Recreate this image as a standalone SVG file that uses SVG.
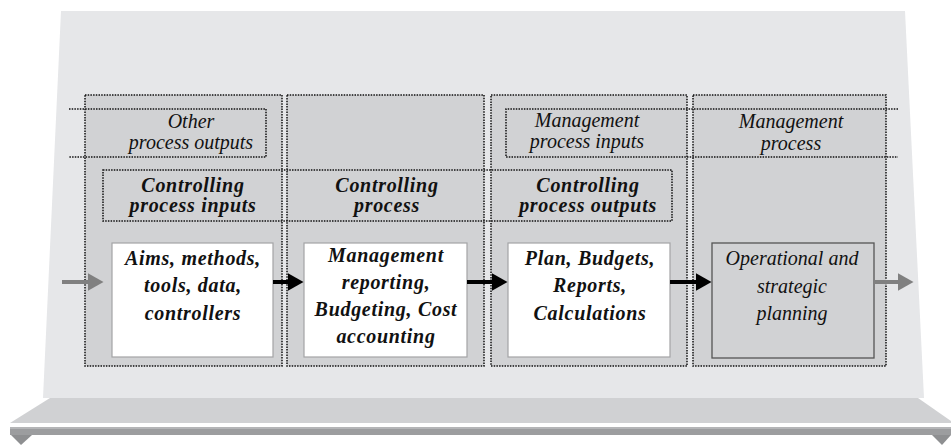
<svg xmlns="http://www.w3.org/2000/svg" width="951" height="445" viewBox="0 0 951 445">
  <style>
    .dot { fill: none; stroke: #111; stroke-width: 1.5; stroke-dasharray: 1.5 1.2; }
    .col { fill: #d1d2d4; stroke: #111; stroke-width: 1.5; stroke-dasharray: 1.5 1.2; }
    .box { fill: #ffffff; stroke: #a3a4a6; stroke-width: 1.2; }
    .box-dark { fill: #d1d2d4; stroke: #555; stroke-width: 1.3; }
    text { font-family: "Liberation Serif", "Times New Roman", serif; font-style: italic; font-size: 20px; fill: #111; text-anchor: middle; }
    .b { font-weight: bold; letter-spacing: 0.7px; }
    .lane { stroke-width: 4; fill: none; }
  </style>
  <defs>
    <marker id="headBlack" markerUnits="userSpaceOnUse" markerWidth="17" markerHeight="18" refX="0.5" refY="9" orient="auto">
      <path d="M0,0 L16,9 L0,18 z" fill="#000"/>
    </marker>
    <marker id="headGray" markerUnits="userSpaceOnUse" markerWidth="17" markerHeight="18" refX="0.5" refY="9" orient="auto">
      <path d="M0,0 L16,9 L0,18 z" fill="#808080"/>
    </marker>
  </defs>

  <!-- backdrop panel and shelf -->
  <g id="stage">
    <polygon points="61,11 905,11 924,398 43,398" fill="#e6e7e9"/>
    <polygon points="50,398 918,398 951,421 951,423 10,423" fill="#d0d1d3"/>
    <rect x="10" y="427" width="941" height="8" fill="#9c9d9f"/>
    <rect x="10" y="427" width="941" height="2" fill="#b4b5b7"/>
    <polygon points="11,435 32,435 21,445" fill="#8e8f91"/>
    <polygon points="932,435 951,435 942,445" fill="#8e8f91"/>
  </g>

  <!-- process columns -->
  <g id="columns">
    <rect id="col-inputs" class="col" x="85" y="95" width="197" height="271"/>
    <rect id="col-process" class="col" x="287" y="95" width="197" height="271"/>
    <rect id="col-outputs" class="col" x="491" y="95" width="196" height="271"/>
    <rect id="col-management" class="col" x="693" y="95" width="193" height="271"/>
  </g>

  <!-- swimlane bands -->
  <g id="lanes">
    <path class="dot" d="M69,109 H266 V157 H69"/>
    <path class="dot" d="M898,109 H506 V157 H898"/>
    <rect class="dot" x="103" y="170" width="569" height="51"/>
  </g>

  <g id="label-other-outputs">
    <text x="191" y="128">Other</text>
    <text x="191" y="149">process outputs</text>
  </g>
  <g id="label-mgmt-inputs">
    <text x="587" y="127">Management</text>
    <text x="587" y="148">process inputs</text>
  </g>
  <g id="label-mgmt-process">
    <text x="791" y="128">Management</text>
    <text x="791" y="150">process</text>
  </g>
  <g id="label-ctrl-inputs">
    <text class="b" x="193" y="192">Controlling</text>
    <text class="b" x="193" y="212">process inputs</text>
  </g>
  <g id="label-ctrl-process">
    <text class="b" x="387" y="192">Controlling</text>
    <text class="b" x="387" y="212">process</text>
  </g>
  <g id="label-ctrl-outputs">
    <text class="b" x="588" y="192">Controlling</text>
    <text class="b" x="588" y="212">process outputs</text>
  </g>

  <!-- content boxes -->
  <g id="node-aims">
    <rect class="box" x="112" y="243" width="161" height="114"/>
    <text class="b" x="193" y="265">Aims, methods,</text>
    <text class="b" x="193" y="292">tools, data,</text>
    <text class="b" x="193" y="320">controllers</text>
  </g>
  <g id="node-reporting">
    <rect class="box" x="304" y="243" width="163" height="114"/>
    <text class="b" x="386" y="262">Management</text>
    <text class="b" x="386" y="289">reporting,</text>
    <text class="b" x="386" y="316">Budgeting, Cost</text>
    <text class="b" x="386" y="343">accounting</text>
  </g>
  <g id="node-plans">
    <rect class="box" x="508" y="243" width="162" height="114"/>
    <text class="b" x="590" y="265">Plan, Budgets,</text>
    <text class="b" x="590" y="292">Reports,</text>
    <text class="b" x="590" y="320">Calculations</text>
  </g>
  <g id="node-planning">
    <rect class="box-dark" x="712" y="243" width="162" height="115"/>
    <text x="792" y="265">Operational and</text>
    <text x="792" y="293">strategic</text>
    <text x="792" y="320">planning</text>
  </g>

  <!-- flow connectors -->
  <g id="connectors">
    <line class="lane" x1="62" y1="282" x2="88" y2="282" stroke="#808080" marker-end="url(#headGray)"/>
    <line class="lane" x1="273" y1="282" x2="288" y2="282" stroke="#000" marker-end="url(#headBlack)"/>
    <line class="lane" x1="467" y1="282" x2="492" y2="282" stroke="#000" marker-end="url(#headBlack)"/>
    <line class="lane" x1="670" y1="282" x2="696" y2="282" stroke="#000" marker-end="url(#headBlack)"/>
    <line class="lane" x1="874" y1="282" x2="898" y2="282" stroke="#808080" marker-end="url(#headGray)"/>
  </g>
</svg>
